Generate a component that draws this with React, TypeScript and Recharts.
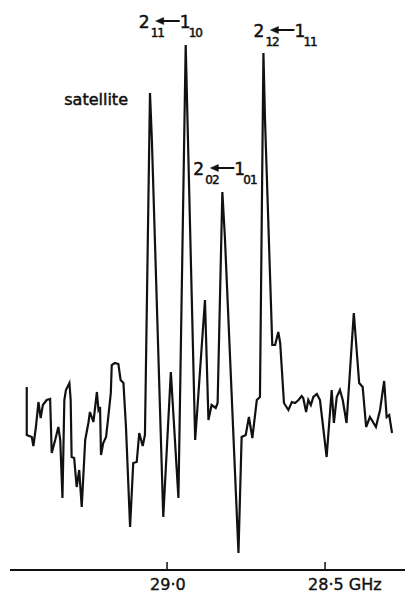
import { Line, LineChart, ReferenceDot, XAxis, YAxis } from "recharts";

// frequency (GHz) and detector signal (arb. units)
const FREQ_GHZ = [
  29.444, 29.444, 29.428, 29.423, 29.415, 29.407, 29.4, 29.393, 29.381, 29.37,
  29.365, 29.354, 29.344, 29.338, 29.331, 29.325, 29.32, 29.309, 29.305, 29.302,
  29.294, 29.286, 29.278, 29.27, 29.259, 29.249, 29.244, 29.233, 29.222, 29.217,
  29.212, 29.209, 29.202, 29.193, 29.186, 29.178, 29.175, 29.165, 29.154, 29.147,
  29.138, 29.13, 29.117, 29.107, 29.096, 29.088, 29.077, 29.07, 29.054, 29.048,
  29.012, 28.988, 28.964, 28.941, 28.911, 28.88, 28.869, 28.859, 28.846, 28.84,
  28.825, 28.817, 28.774, 28.764, 28.751, 28.741, 28.73, 28.716, 28.706, 28.695,
  28.69, 28.667, 28.658, 28.648, 28.642, 28.63, 28.616, 28.605, 28.595, 28.584,
  28.574, 28.569, 28.56, 28.553, 28.545, 28.537, 28.526, 28.516, 28.495, 28.479,
  28.472, 28.463, 28.453, 28.444, 28.432, 28.409, 28.392, 28.381, 28.37, 28.358,
  28.339, 28.326, 28.313, 28.305, 28.297, 28.288,
];
const SIGNAL = [
  0.18, -0.3, -0.32, -0.41, -0.22, 0.03, -0.13, 0.0, 0.05, 0.06,
  -0.48, -0.35, -0.22, -0.35, -0.93, 0.05, 0.15, 0.22, 0.05, -0.52,
  -0.53, -0.82, -0.65, -1.02, -0.35, -0.18, -0.07, -0.17, 0.13, -0.05,
  -0.02, -0.5, -0.38, -0.32, -0.12, 0.12, 0.4, 0.42, 0.41, 0.25,
  0.22, -0.22, -1.22, -0.58, -0.57, -0.28, -0.41, -0.3, 3.12, 2.65,
  -1.12, 0.33, -0.93, 3.6, -0.35, 1.05, -0.15, 0.0, -0.03, 0.02,
  2.13, 1.68, -1.48, -0.32, -0.3, -0.12, -0.33, 0.05, 0.08, 3.52,
  2.85, 0.6, 0.6, 0.73, 0.62, 0.02, -0.05, 0.03, 0.02, 0.05,
  0.09, 0.07, -0.07, 0.05, 0.0, 0.08, 0.11, 0.05, -0.52, 0.15,
  -0.18, 0.08, 0.15, 0.05, -0.18, 0.92, 0.22, 0.18, -0.22, -0.12,
  -0.22, -0.05, 0.24, -0.12, -0.1, -0.28,
];

const TICKS_GHZ = [29.0, 28.5];
const TICK_LABELS = ["29·0", "28·5 GHz"];

// assigned lines: frequency of peak, upper J_KaKc, lower J_KaKc
const SATELLITE_GHZ = 29.054;
const LINE_GHZ = [28.941, 28.825, 28.695];
const LINE_UPPER = [["2", "11"], ["2", "02"], ["2", "12"]];
const LINE_LOWER = [["1", "10"], ["1", "01"], ["1", "11"]];

const data = FREQ_GHZ.map((f, i) => ({ f, s: SIGNAL[i] }));
const signalAt = (f: number) => SIGNAL[FREQ_GHZ.indexOf(f)];

const FONT = "'DejaVu Sans', sans-serif";
const INK = "#111";

function Transition({ x, y, upper, lower }: { x: number; y: number; upper: string[]; lower: string[] }) {
  const ay = y - 7;
  return (
    <g fill={INK} fontFamily={FONT} stroke={INK} strokeWidth={0.5}>
      <text x={x} y={y} fontSize={17}>{upper[0]}</text>
      <text x={x + 12} y={y + 9} fontSize={12} letterSpacing={-1}>{upper[1]}</text>
      <line x1={x + 24} y1={ay} x2={x + 41} y2={ay} strokeWidth={2} />
      <path d={`M${x + 17},${ay} L${x + 25},${ay - 3.5} L${x + 25},${ay + 3.5} Z`} />
      <text x={x + 41} y={y} fontSize={17}>{lower[0]}</text>
      <text x={x + 50} y={y + 9} fontSize={12} letterSpacing={-1}>{lower[1]}</text>
    </g>
  );
}

const LABEL_OFFSETS = [[-47, -17], [-29, -17], [-10, -16]];

function FreqTick(props: any) {
  const { x, y, payload } = props;
  const i = TICKS_GHZ.indexOf(payload.value);
  return (
    <g>
      <line x1={x} y1={y - 8} x2={x} y2={y} stroke={INK} strokeWidth={1.5} />
      <text x={x - 17} y={y + 20} fontSize={16} fontFamily={FONT} fill={INK} stroke={INK} strokeWidth={0.4}>
        {TICK_LABELS[i]}
      </text>
    </g>
  );
}

export default function App() {
  return (
    <div style={{ position: "absolute", left: 0, top: 0, width: 406, height: 596, background: "#fff" }}>
      <LineChart width={406} height={596} data={data} margin={{ top: 30, right: 1, bottom: 0, left: 10 }}>
        <XAxis
          dataKey="f"
          type="number"
          reversed
          domain={[28.247, 29.497]}
          allowDataOverflow
          ticks={TICKS_GHZ}
          tick={<FreqTick />}
          tickLine={false}
          tickSize={0}
          tickMargin={0}
          height={26}
          axisLine={{ stroke: INK, strokeWidth: 2 }}
        />
        <YAxis hide domain={[-1.65, 3.75]} allowDataOverflow />
        <Line
          dataKey="s"
          type="linear"
          stroke={INK}
          strokeWidth={2.2}
          dot={false}
          isAnimationActive={false}
        />
        <ReferenceDot
          x={SATELLITE_GHZ}
          y={signalAt(SATELLITE_GHZ)}
          r={0}
          shape={(p: any) => (
            <text x={p.cx - 22} y={p.cy + 12} textAnchor="end" fontSize={16} fontFamily={FONT} fill={INK} stroke={INK} strokeWidth={0.5}>
              satellite
            </text>
          )}
        />
        {LINE_GHZ.map((f, i) => (
          <ReferenceDot
            key={f}
            x={f}
            y={signalAt(f)}
            r={0}
            shape={(p: any) => (
              <Transition
                x={p.cx + LABEL_OFFSETS[i][0]}
                y={p.cy + LABEL_OFFSETS[i][1]}
                upper={LINE_UPPER[i]}
                lower={LINE_LOWER[i]}
              />
            )}
          />
        ))}
      </LineChart>
    </div>
  );
}
